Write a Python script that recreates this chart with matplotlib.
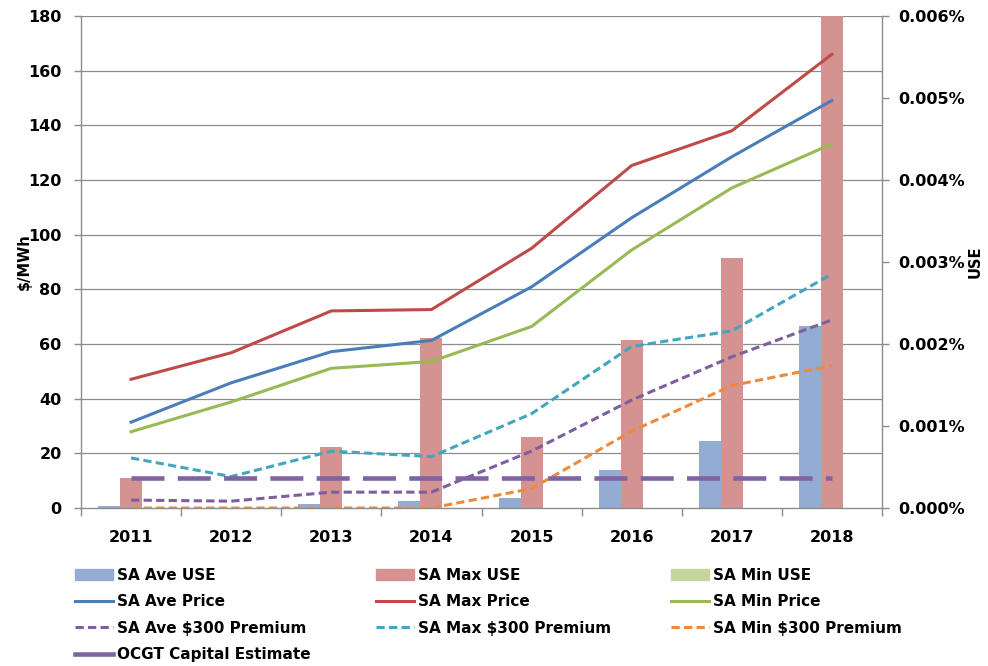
import matplotlib
matplotlib.use("Agg")
import matplotlib.pyplot as plt
from matplotlib.ticker import FuncFormatter, MultipleLocator, FixedLocator
from matplotlib.patches import Patch
from matplotlib.lines import Line2D
import numpy as np

# ---------------- data ----------------
years = ["2011", "2012", "2013", "2014", "2015", "2016", "2017", "2018"]

# USE (% of energy)
ave_use = [0.00002, 0.0, 0.00005, 0.00009, 0.00012, 0.00046, 0.00082, 0.00222]
max_use = [0.00036, 0.0, 0.00074, 0.00207, 0.00087, 0.00205, 0.00305, 0.0060]
min_use = [0.0, 0.0, 0.0, 0.0, 0.0, 0.0, 0.0, 0.0]

# Prices ($/MWh)
ave_price = [31.4, 45.8, 57.2, 61.3, 80.9, 106.2, 128.5, 149.1]
max_price = [47.1, 56.8, 72.1, 72.6, 95.0, 125.3, 138.0, 166.0]
min_price = [27.9, 38.8, 51.1, 53.6, 66.4, 94.4, 117.1, 133.2]
ave_prem = [2.9, 2.5, 5.8, 5.8, 20.8, 39.5, 55.3, 68.8]
max_prem = [18.3, 11.5, 20.8, 18.8, 34.5, 59.1, 64.8, 85.6]
min_prem = [0.0, 0.0, 0.0, 0.0, 7.1, 28.1, 44.8, 52.1]
ocgt = [10.9, 10.9, 10.9, 10.9, 10.9, 10.9, 10.9, 10.9]

price_ticks = [0, 20, 40, 60, 80, 100, 120, 140, 160, 180]

# ---------------- style ----------------
plt.rcParams["font.family"] = ["DejaVu Sans"]
plt.rcParams["font.weight"] = "bold"

C_AVE_BAR = "#94ABD3"
C_MAX_BAR = "#D49290"
C_MIN_BAR = "#C3D69B"
C_AVE = "#4A7EBB"
C_MAX = "#BE4B48"
C_MIN = "#98B954"
C_AVE_P = "#7D5FA0"
C_MAX_P = "#43A6BF"
C_MIN_P = "#EE8A3A"
C_OCGT = "#8064A2"
GRID = "#8C8C8C"

W, H = 988, 666
fig = plt.figure(figsize=(W / 100, H / 100), dpi=100)

L, R, T, B = 81, 882, 16, 508
ax = fig.add_axes([L / W, 1 - B / H, (R - L) / W, (B - T) / H])
ax2 = ax.twinx()

# bars on the base axes (drawn below lines), scale on the right
ax.yaxis.tick_right()
ax.yaxis.set_label_position("right")
ax2.yaxis.tick_left()
ax2.yaxis.set_label_position("left")

x = np.arange(len(years))
bw = 0.22
use_max, price_max = 0.006, 180

ax.set_xlim(-0.5, len(years) - 0.5)
ax.set_ylim(0, use_max)
ax2.set_ylim(0, price_max)

for t in price_ticks[1:]:
    ax.axhline(t * use_max / price_max, color=GRID, lw=0.9, zorder=0)

ax.bar(x - bw, ave_use, bw, color=C_AVE_BAR, zorder=2, label="SA Ave USE")
ax.bar(x, max_use, bw, color=C_MAX_BAR, zorder=2, label="SA Max USE")
ax.bar(x + bw, min_use, bw, color=C_MIN_BAR, zorder=2, label="SA Min USE")

lw = 2.2
ax2.plot(x, ave_price, color=C_AVE, lw=lw)
ax2.plot(x, max_price, color=C_MAX, lw=lw)
ax2.plot(x, min_price, color=C_MIN, lw=lw)
dash = (2.7, 1.4)
ax2.plot(x, ave_prem, color=C_AVE_P, lw=lw, dashes=dash)
ax2.plot(x, max_prem, color=C_MAX_P, lw=lw, dashes=dash)
ax2.plot(x, min_prem, color=C_MIN_P, lw=lw, dashes=dash)
ax2.plot(x, ocgt, color=C_OCGT, lw=3.3, dashes=(7.2, 2.9))

# spines
ax.spines["top"].set_visible(False)
for s in ["left", "right", "bottom"]:
    ax.spines[s].set_color(GRID)
    ax.spines[s].set_linewidth(1.0)
for s in ax2.spines.values():
    s.set_visible(False)

# y ticks
ax.yaxis.set_major_locator(MultipleLocator(0.001))
ax.yaxis.set_major_formatter(FuncFormatter(lambda v, p: f"{v:.3f}%"))
ax.tick_params(axis="y", direction="out", length=5, color=GRID, width=1,
               pad=7, labelsize=11.5)
ax2.yaxis.set_major_locator(FixedLocator(price_ticks))
ax2.tick_params(axis="y", direction="out", length=5, color=GRID, width=1,
                pad=9, labelsize=11.5)

# x ticks: labels at category centres, marks at category boundaries
ax.set_xticks(x)
ax.set_xticklabels(years)
ax.set_xticks(np.arange(-0.5, len(years), 1.0), minor=True)
ax.xaxis.set_tick_params(which="minor", direction="out", length=6,
                         color=GRID, width=1)
ax.xaxis.set_tick_params(which="major", direction="out", length=0,
                         pad=16, labelsize=11.5)

fig.text(24 / W, 1 - 262 / H, "$/MWh", rotation=90, ha="center",
         va="center", fontsize=10.5, fontweight="bold")
fig.text(975 / W, 1 - 262 / H, "USE", rotation=90, ha="center",
         va="center", fontsize=10.5, fontweight="bold")

# legend, three columns placed explicitly
def line_h(c, lw_, d=None):
    h = Line2D([], [], color=c, lw=lw_)
    if d is not None:
        h.set_dashes(d)
    return h

cols = [
    [(Patch(color=C_AVE_BAR), "SA Ave USE"),
     (line_h(C_AVE, lw), "SA Ave Price"),
     (line_h(C_AVE_P, lw, dash), "SA Ave $300 Premium"),
     (line_h(C_OCGT, 3.3), "OCGT Capital Estimate")],
    [(Patch(color=C_MAX_BAR), "SA Max USE"),
     (line_h(C_MAX, lw), "SA Max Price"),
     (line_h(C_MAX_P, lw, dash), "SA Max $300 Premium")],
    [(Patch(color=C_MIN_BAR), "SA Min USE"),
     (line_h(C_MIN, lw), "SA Min Price"),
     (line_h(C_MIN_P, lw, dash), "SA Min $300 Premium")],
]
col_x = [75, 376, 671]
for cx, items in zip(col_x, cols):
    fig.legend([h for h, _ in items], [t for _, t in items],
               loc="upper left", bbox_to_anchor=(cx / W, 1 - 568 / H),
               frameon=False, borderpad=0, borderaxespad=0,
               handlelength=2.5, handletextpad=0.25, labelspacing=0.74,
               handleheight=0.7, prop={"size": 11, "weight": "bold"})

fig.savefig("out.png", dpi=100)
